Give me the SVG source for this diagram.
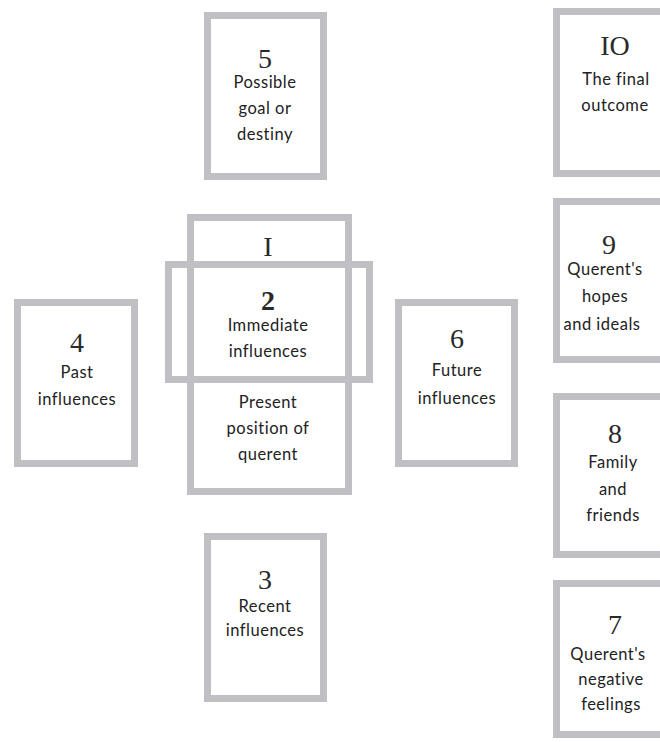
<svg xmlns="http://www.w3.org/2000/svg" width="660" height="742" viewBox="0 0 660 742">
<style>
.card{fill:#fff;stroke:#bfbfc4;stroke-width:7}
.open{fill:none;stroke:#bfbfc4;stroke-width:7}
.num{font-family:"Liberation Serif",serif;font-size:28px;fill:#2a2a2a;text-anchor:middle}
.lbl{font-family:"Lato","Open Sans",sans-serif;font-size:16.5px;letter-spacing:0.5px;fill:#222;text-anchor:middle}
</style>
<rect width="660" height="742" fill="#fff"/>
<g id="card5">
<rect class="card" x="207.5" y="15.5" width="116" height="161"/>
<text class="num" x="265" y="68">5</text>
<text class="lbl" x="265" y="88">Possible</text>
<text class="lbl" x="265" y="114">goal or</text>
<text class="lbl" x="265" y="140">destiny</text>
</g>
<g id="card10">
<rect class="card" x="556.5" y="11.5" width="130" height="162"/>
<text class="num" x="615" y="55" font-size="25">IO</text>
<text class="lbl" x="616" y="85">The final</text>
<text class="lbl" x="615" y="111">outcome</text>
</g>
<g id="card9">
<rect class="card" x="556.5" y="201.5" width="130" height="158"/>
<text class="num" x="609" y="254">9</text>
<text class="lbl" x="605" y="275">Querent's</text>
<text class="lbl" x="605" y="302">hopes</text>
<text class="lbl" x="602" y="330">and ideals</text>
</g>
<g id="card8">
<rect class="card" x="556.5" y="396.5" width="130" height="158"/>
<text class="num" x="615" y="443">8</text>
<text class="lbl" x="613" y="468">Family</text>
<text class="lbl" x="613" y="495">and</text>
<text class="lbl" x="613" y="521">friends</text>
</g>
<g id="card7">
<rect class="card" x="556.5" y="583.5" width="130" height="151"/>
<text class="num" x="615" y="634">7</text>
<text class="lbl" x="608" y="660">Querent's</text>
<text class="lbl" x="611" y="685">negative</text>
<text class="lbl" x="611" y="710">feelings</text>
</g>
<g id="card4">
<rect class="card" x="17.5" y="302.5" width="117" height="161"/>
<text class="num" x="77" y="352">4</text>
<text class="lbl" x="77" y="378">Past</text>
<text class="lbl" x="77" y="405">influences</text>
</g>
<g id="card6">
<rect class="card" x="398.5" y="302.5" width="116" height="161"/>
<text class="num" x="457" y="348">6</text>
<text class="lbl" x="457" y="376">Future</text>
<text class="lbl" x="457" y="404">influences</text>
</g>
<g id="card3">
<rect class="card" x="207.5" y="536.5" width="116" height="162"/>
<text class="num" x="265" y="589">3</text>
<text class="lbl" x="265" y="612">Recent</text>
<text class="lbl" x="265" y="636">influences</text>
</g>
<g id="card1">
<rect class="card" x="190.5" y="217.5" width="158" height="274"/>
<text class="num" x="268" y="256" font-size="24">I</text>
<text class="lbl" x="268" y="408">Present</text>
<text class="lbl" x="268" y="434">position of</text>
<text class="lbl" x="268" y="460">querent</text>
</g>
<g id="card2">
<rect class="open" x="168.5" y="264.5" width="201" height="115"/>
<text class="num" x="268" y="310" font-weight="bold" font-size="20">2</text>
<text class="lbl" x="268" y="331">Immediate</text>
<text class="lbl" x="268" y="357">influences</text>
</g>
<g id="connectors"/>
</svg>
